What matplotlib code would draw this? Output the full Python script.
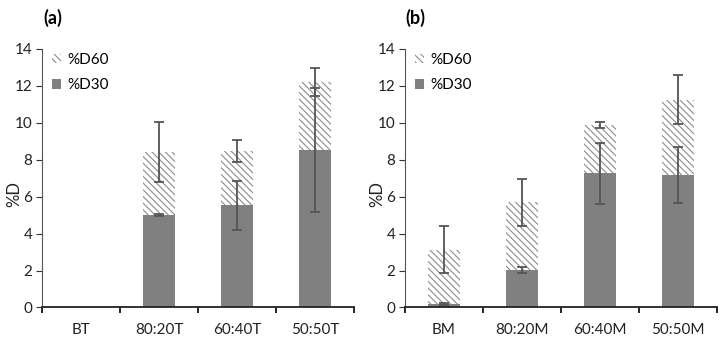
import matplotlib.pyplot as plt
import matplotlib.patches as mpatches
import numpy as np

plt.rcParams['font.family'] = ['Lato', 'DejaVu Sans']
plt.rcParams['hatch.linewidth'] = 0.8

cats_a = ['BT', '80:20T', '60:40T', '50:50T']
d30_a = [0.0, 5.03, 5.53, 8.53]
d60_a = [0.0, 3.40, 2.94, 3.69]
err30_a = [0.0, 0.05, 1.34, 3.36]
err60_a = [0.0, 1.61, 0.58, 0.77]

cats_b = ['BM', '80:20M', '60:40M', '50:50M']
d30_b = [0.20, 2.03, 7.26, 7.16]
d60_b = [2.93, 3.66, 2.60, 4.10]
err30_b = [0.07, 0.14, 1.66, 1.52]
err60_b = [1.26, 1.29, 0.16, 1.33]

gray = '#808080'
errc = '#555555'
txtc = '#222222'


def panel(ax, cats, d30, d60, e30, e60):
    x = np.arange(len(cats))
    d30 = np.array(d30)
    d60 = np.array(d60)
    ax.bar(x, d30, 0.4, color=gray, linewidth=0)
    ax.bar(x, d60, 0.4, bottom=d30, color='white', edgecolor='#8c8c8c',
           linewidth=0, hatch='\\\\\\\\\\')
    for i in range(len(cats)):
        if e30[i] > 0:
            ax.errorbar(x[i], d30[i], yerr=e30[i], color=errc, lw=1.3,
                        capsize=3.5, capthick=1.3)
        if e60[i] > 0:
            ax.errorbar(x[i], d30[i] + d60[i], yerr=e60[i], color=errc,
                        lw=1.3, capsize=3.5, capthick=1.3)
    ax.set_xlim(-0.5, len(cats) - 0.5)
    ax.set_ylim(0, 14)
    ax.set_yticks(range(0, 15, 2))
    ax.set_xticks(np.arange(-0.5, len(cats), 1.0))
    ax.set_xticklabels([])
    ax.set_xticks(x, minor=True)
    ax.set_xticklabels(cats, minor=True)
    ax.tick_params(axis='x', which='minor', length=0, pad=11,
                   labelsize=11, labelcolor=txtc)
    ax.tick_params(axis='x', which='major', length=4, direction='out', width=1.2)
    ax.tick_params(axis='y', length=4, direction='out', colors='#333333',
                   labelcolor=txtc, labelsize=11, pad=3)
    for s in ['top', 'right']:
        ax.spines[s].set_visible(False)
    ax.spines['left'].set_color('#555555')
    ax.spines['bottom'].set_color('#222222')
    ax.spines['bottom'].set_linewidth(1.3)
    ax.set_ylabel('%D', fontsize=12, color=txtc)
    ax.yaxis.set_label_coords(-0.064, 0.44)
    h60 = mpatches.Patch(facecolor='white', edgecolor='#8c8c8c', linewidth=0,
                         hatch='\\\\\\\\\\')
    h30 = mpatches.Patch(facecolor=gray, linewidth=0)
    ax.legend([h60, h30], ['%D60', '%D30'], loc='upper left',
              bbox_to_anchor=(0.013, 1.008), frameon=False, fontsize=11,
              handlelength=0.6, handleheight=0.6, handletextpad=0.4,
              labelspacing=0.75, borderaxespad=0.0)


fig = plt.figure(figsize=(7.24, 3.48), dpi=100)
ax1 = fig.add_axes([42 / 724, 0.1164, 312 / 724, 0.743])
ax2 = fig.add_axes([405 / 724, 0.1164, 312 / 724, 0.743])
panel(ax1, cats_a, d30_a, d60_a, err30_a, err60_a)
panel(ax2, cats_b, d30_b, d60_b, err30_b, err60_b)
fig.text(43 / 724, 1 - 18 / 348, '(a)', ha='left', va='center',
         fontsize=13, fontweight='bold')
fig.text(405 / 724, 1 - 18 / 348, '(b)', ha='left', va='center',
         fontsize=13, fontweight='bold')
fig.savefig('out.png', dpi=100)
